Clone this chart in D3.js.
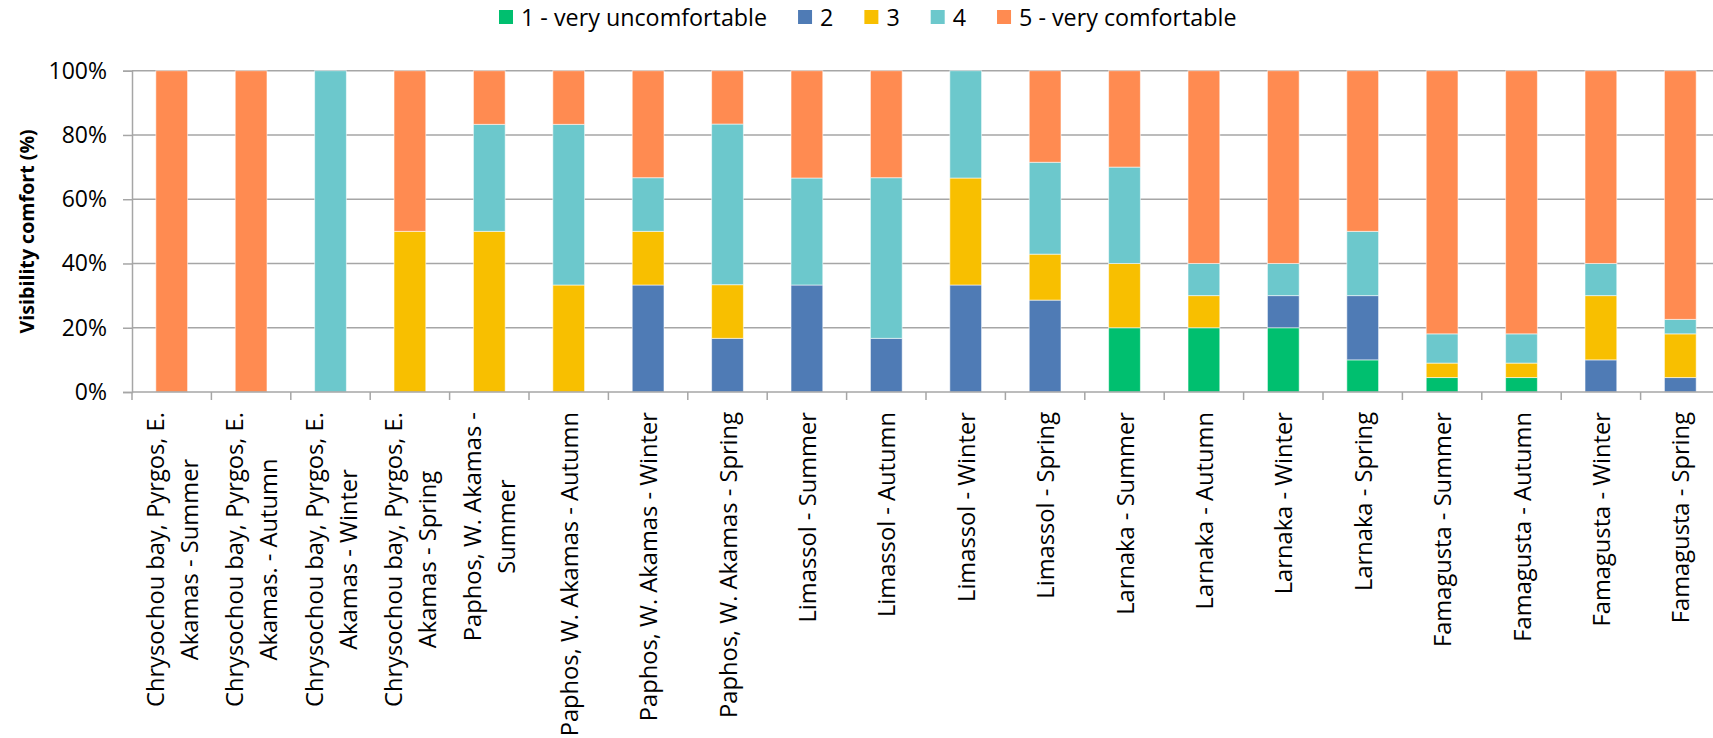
<!DOCTYPE html>
<html>
<head>
<meta charset="utf-8">
<script src="https://cdn.jsdelivr.net/npm/d3@7"></script>
<style>
  html, body { margin: 0; padding: 0; background: #fff; }
  svg { display: block; }
  text { font-family: "Open Sans", "Noto Sans", sans-serif; fill: #000; }
</style>
</head>
<body>
<svg id="chart" width="1713" height="738"></svg>
<script>
// Site / season categories ("\n" marks a line break in the axis label)
const categories = [
  "Chrysochou bay, Pyrgos, E.\nAkamas - Summer",
  "Chrysochou bay, Pyrgos, E.\nAkamas. - Autumn",
  "Chrysochou bay, Pyrgos, E.\nAkamas - Winter",
  "Chrysochou bay, Pyrgos, E.\nAkamas - Spring",
  "Paphos, W. Akamas -\nSummer",
  "Paphos, W. Akamas - Autumn",
  "Paphos, W. Akamas - Winter",
  "Paphos, W. Akamas - Spring",
  "Limassol - Summer",
  "Limassol - Autumn",
  "Limassol - Winter",
  "Limassol - Spring",
  "Larnaka - Summer",
  "Larnaka - Autumn",
  "Larnaka - Winter",
  "Larnaka - Spring",
  "Famagusta - Summer",
  "Famagusta - Autumn",
  "Famagusta - Winter",
  "Famagusta - Spring"
];

// Share of answers (%) for each comfort rating
const veryUncomfortable = [0, 0, 0, 0, 0, 0, 0, 0, 0, 0, 0, 0, 20, 20, 20, 10, 4.5, 4.5, 0, 0];
const rating2 = [0, 0, 0, 0, 0, 0, 33.3, 16.7, 33.3, 16.7, 33.3, 28.6, 0, 0, 10, 20, 0, 0, 10, 4.5];
const rating3 = [0, 0, 0, 50, 50, 33.3, 16.7, 16.7, 0, 0, 33.3, 14.3, 20, 10, 0, 0, 4.5, 4.5, 20, 13.6];
const rating4 = [0, 0, 100, 0, 33.3, 50, 16.7, 50, 33.3, 50, 33.4, 28.6, 30, 10, 10, 20, 9.1, 9.1, 10, 4.5];
const veryComfortable = [100, 100, 0, 50, 16.7, 16.7, 33.3, 16.6, 33.4, 33.3, 0, 28.5, 30, 60, 60, 50, 81.9, 81.9, 60, 77.4];

const seriesNames = ["1 - very uncomfortable", "2", "3", "4", "5 - very comfortable"];
const seriesValues = [veryUncomfortable, rating2, rating3, rating4, veryComfortable];
const seriesColors = ["#00bf6f", "#4f7bb5", "#f8bf00", "#6cc8cc", "#ff8b51"];

const yTicks = [0, 20, 40, 60, 80, 100];

// Rows for d3.stack
const rows = categories.map((c, i) => {
  const r = { category: c };
  seriesNames.forEach((s, k) => { r[s] = seriesValues[k][i]; });
  return r;
});

const svg = d3.select("#chart");
const plot = { left: 132, right: 1720, top: 70.7, bottom: 392 };

const x = d3.scaleBand().domain(categories).range([plot.left, plot.right]).paddingInner(0.6).paddingOuter(0.3);
const xBounds = d3.scaleLinear().domain([0, categories.length]).range([plot.left, plot.right]);
const y = d3.scaleLinear().domain([0, 100]).range([plot.bottom, plot.top]);
const color = d3.scaleOrdinal().domain(seriesNames).range(seriesColors);

const gridColor = "#a6a6a6";

// Horizontal gridlines
svg.append("g")
  .selectAll("line")
  .data(yTicks.filter(t => t > 0))
  .join("line")
  .attr("x1", plot.left).attr("x2", 1713)
  .attr("y1", d => y(d)).attr("y2", d => y(d))
  .attr("stroke", gridColor).attr("stroke-width", 1.5);

// Y axis
const yAxis = svg.append("g")
  .attr("transform", `translate(${plot.left},0)`)
  .call(d3.axisLeft(y).tickValues(yTicks).tickFormat(d => d + "%").tickSize(9).tickPadding(16));
yAxis.select(".domain").attr("stroke", gridColor).attr("stroke-width", 1.5);
yAxis.selectAll(".tick line").attr("stroke", gridColor).attr("stroke-width", 1.5);
yAxis.selectAll(".tick text").attr("font-size", 23).attr("font-family", "'Open Sans', sans-serif").attr("fill", "#000");

// Y axis title
svg.append("text")
  .attr("transform", `translate(26,${(plot.top + plot.bottom) / 2}) rotate(-90)`)
  .attr("text-anchor", "middle")
  .attr("dominant-baseline", "central")
  .attr("font-size", 19.6)
  .attr("font-weight", "bold")
  .text("Visibility comfort (%)");

// Stacked bars
const stacked = d3.stack().keys(seriesNames)(rows);
svg.append("g")
  .selectAll("g")
  .data(stacked)
  .join("g")
  .attr("fill", d => color(d.key))
  .selectAll("rect")
  .data(d => d.filter(p => p[1] - p[0] > 0))
  .join("rect")
  .attr("x", d => x(d.data.category))
  .attr("width", x.bandwidth())
  .attr("y", d => y(d[1]))
  .attr("height", d => y(d[0]) - y(d[1]))
  .attr("stroke", "rgba(255,255,255,0.55)")
  .attr("stroke-width", 1);

// X axis line and category boundary ticks
const xAxis = svg.append("g");
xAxis.append("line")
  .attr("x1", plot.left).attr("x2", 1713)
  .attr("y1", plot.bottom).attr("y2", plot.bottom)
  .attr("stroke", gridColor).attr("stroke-width", 1.5);
xAxis.selectAll("line.tick")
  .data(d3.range(categories.length + 1))
  .join("line")
  .attr("class", "tick")
  .attr("x1", d => xBounds(d)).attr("x2", d => xBounds(d))
  .attr("y1", plot.bottom).attr("y2", plot.bottom + 8)
  .attr("stroke", gridColor).attr("stroke-width", 1.5);

// Rotated category labels, lines centred on each other and hanging from the axis
const labelSize = 23.7;
const lineGap = 34;
const labelTop = 412;
const labels = svg.append("g").selectAll("g")
  .data(categories)
  .join("g")
  .attr("transform", d => `translate(${x(d) + x.bandwidth() / 2},${labelTop}) rotate(-90)`);

labels.each(function (d) {
  const g = d3.select(this);
  const lines = d.split("\n");
  const texts = lines.map((ln, i) => g.append("text")
    .attr("font-size", labelSize)
    .attr("text-anchor", "middle")
    .attr("dominant-baseline", "central")
    .attr("y", (i - (lines.length - 1) / 2) * lineGap)
    .text(ln));
  const maxLen = d3.max(texts, t => t.node().getComputedTextLength());
  texts.forEach(t => t.attr("x", -maxLen / 2));
});

// Legend
const legend = svg.append("g");
let lx = 499;
seriesNames.forEach((name, k) => {
  legend.append("rect")
    .attr("x", lx).attr("y", 10)
    .attr("width", 14).attr("height", 14)
    .attr("fill", seriesColors[k]);
  const t = legend.append("text")
    .attr("x", lx + 22).attr("y", 17)
    .attr("dominant-baseline", "central")
    .attr("font-size", 23.3)
    .text(name);
  lx += 22 + t.node().getComputedTextLength() + 31;
});
</script>
</body>
</html>
